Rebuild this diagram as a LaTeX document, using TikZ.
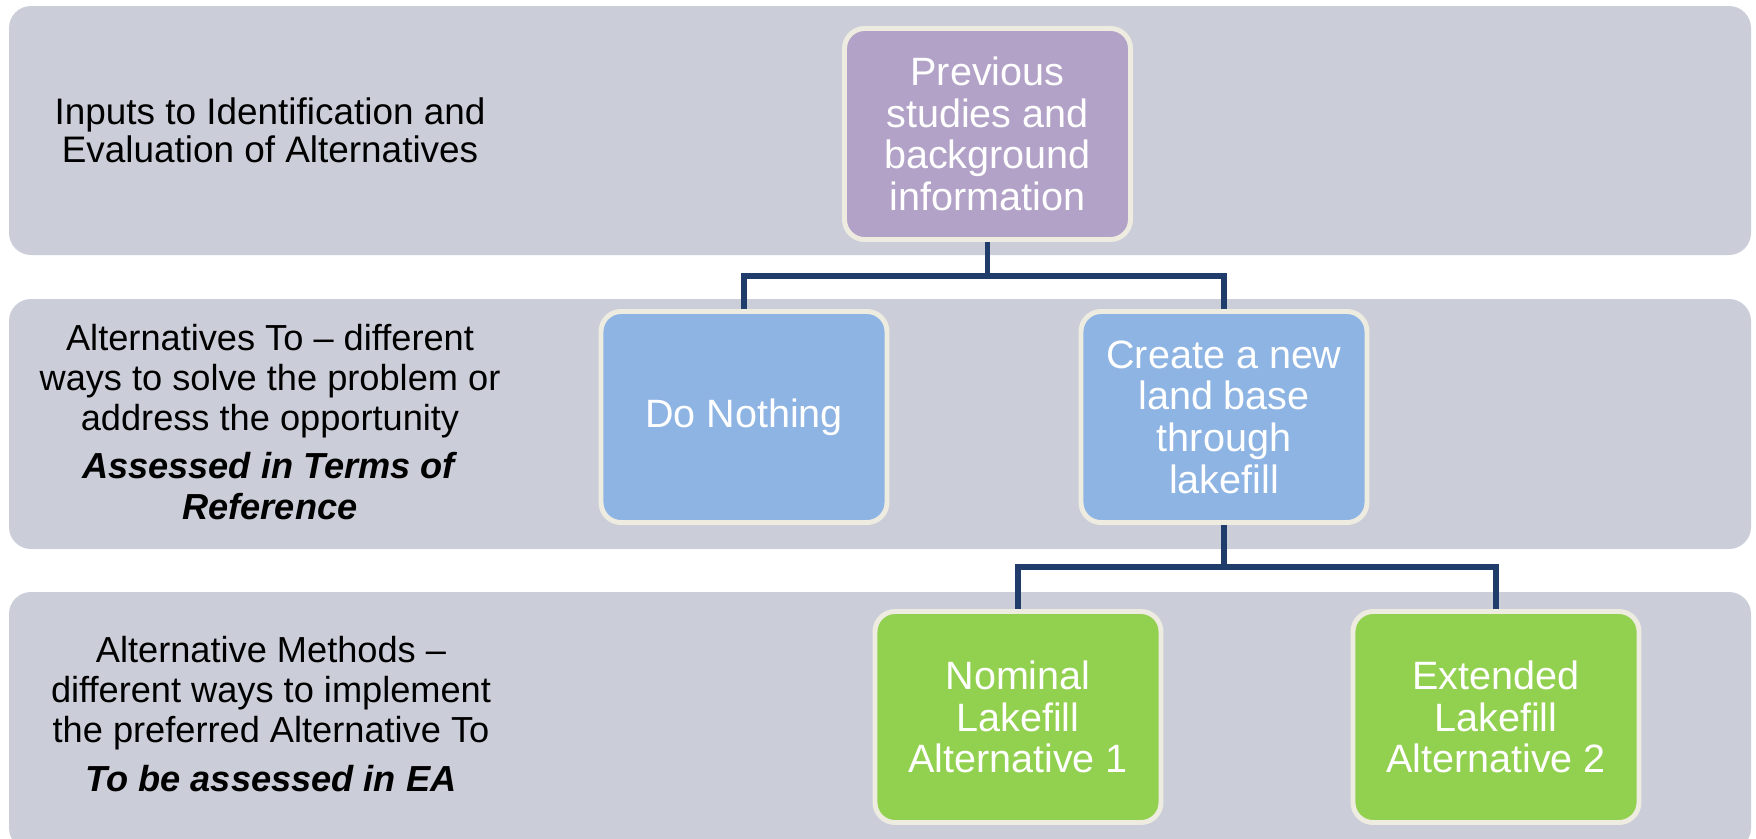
\documentclass[tikz,border=0pt]{standalone}
\usepackage{fontspec}
\setmainfont{Liberation Sans}

\definecolor{bandgray}{HTML}{CBCED8}
\definecolor{boxrim}{HTML}{EEECE1}
\definecolor{linkblue}{HTML}{1F3C6A}
\definecolor{prevpurple}{HTML}{B2A2C7}
\definecolor{altblue}{HTML}{8EB4E3}
\definecolor{methgreen}{HTML}{92D050}

\newcommand{\assess}[1]{\textbf{\textit{#1}}}

\begin{document}
\begin{tikzpicture}[x=0.2mm, y=-0.2mm, thick]

        % Styles
        \tikzstyle{band}=[fill=bandgray, rounded corners=0.44cm]
        \tikzstyle{bandtext}=[align=center, text=black, font=\fontsize{20.6pt}{22.8pt}\selectfont]
        \tikzstyle{optbox}=[rectangle, draw=boxrim, line width=2.8pt, rounded corners=0.4cm, align=center, text=white, minimum width=5.72cm, minimum height=4.22cm, font=\fontsize{22.5pt}{23.7pt}\selectfont]
        \tikzstyle{link}=[draw=linkblue, line width=3pt]

        \useasboundingbox (0,0) rectangle (1756,838);

        % Bandes
        \fill[band] (9,6) rectangle (1751,255);
        \fill[band] (9,299) rectangle (1751,549);
        \fill[band] (9,592) rectangle (1751,850);

        % Textes
        \node[bandtext, font=\fontsize{21pt}{21.5pt}\selectfont] (inputs) at (270,130) {Inputs to Identification and\\Evaluation of Alternatives};
        \node[bandtext] (altto) at (270,422) {Alternatives To -- different\\ways to solve the problem or\\address the opportunity\\[4.5pt]\assess{Assessed in Terms of}\\\assess{Reference}};
        \node[bandtext] (altmeth) at (271,714) {Alternative Methods --\\different ways to implement\\the preferred Alternative To\\[5pt]\assess{To be assessed in EA}};

        % Noeuds
        \node[optbox, fill=prevpurple] (prev) at (987.5,134) {Previous\\studies and\\background\\information};
        \node[optbox, fill=altblue] (nothing) at (744,417) {Do Nothing};
        \node[optbox, fill=altblue] (create) at (1224,417) {Create a new\\land base\\through\\lakefill};
        \node[optbox, fill=methgreen] (nominal) at (1018,717) {Nominal\\Lakefill\\Alternative 1};
        \node[optbox, fill=methgreen] (extended) at (1496,717) {Extended\\Lakefill\\Alternative 2};

        % Liens
        \coordinate (j1) at (987.5,276);
        \coordinate (j2) at (1224,567);
        \draw[link] (prev.south) -- (j1) -| (nothing.north);
        \draw[link] (j1) -| (create.north);
        \draw[link] (create.south) -- (j2) -| (nominal.north);
        \draw[link] (j2) -| (extended.north);

    \end{tikzpicture}
\end{document}
